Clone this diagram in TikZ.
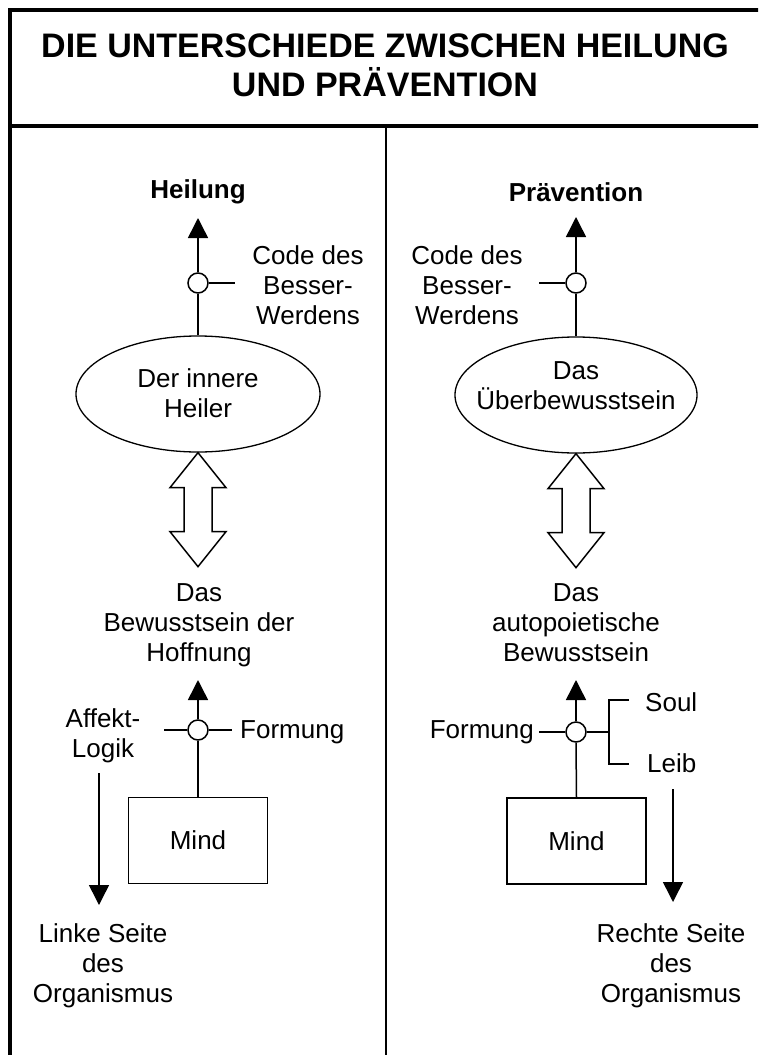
\documentclass[tikz,border=0pt]{standalone}
\usepackage{fontspec}
\setmainfont{Liberation Sans}
\usetikzlibrary{arrows.meta,shapes.geometric,calc}

\begin{document}
\begin{tikzpicture}[x=1pt,y=-1pt,
  txt/.style={font=\fontsize{26}{30}\selectfont, align=center, inner sep=0pt},
  ttl/.style={font=\fontsize{34}{39}\selectfont\bfseries, align=center, inner sep=0pt},
  hd/.style={font=\fontsize{26}{30}\selectfont\bfseries, inner sep=0pt},
  oval/.style={ellipse, draw, line width=1.3pt, minimum width=244pt, minimum height=116pt, inner sep=0pt},
  mindbox/.style={draw, line width=1.5pt, minimum width=139pt, minimum height=86pt,
                  inner sep=0pt, font=\fontsize{26}{30}\selectfont},
  junction/.style={circle, draw, fill=white, line width=1.5pt, minimum size=20pt, inner sep=0pt},
  link/.style={line width=1.5pt},
  flow/.style={line width=1.5pt, -{Triangle[width=20pt,length=20pt]}},
  outerline/.style={line width=4.5pt},
  bigarrow/.style={draw, line width=1.5pt, fill=white, line join=miter}
]
\useasboundingbox (0,0) rectangle (758,1055);
\clip (0,0) rectangle (758,1055);

% frame, title rule and column divider
\draw[outerline] (10,1080) -- (10,10) -- (780,10);
\draw[outerline] (10,126) -- (780,126);
\draw[line width=2pt] (386,126) -- (386,1080);

% title
\node[ttl] (title) at (385,65.5) {DIE UNTERSCHIEDE ZWISCHEN HEILUNG\\UND PRÄVENTION};

% ---------------- left column: Heilung ----------------
\node[hd] (heilung) at (198,192) {Heilung};
\coordinate (htip) at (198,218);
\node[junction] (j1) at (198,283) {};
\coordinate (j1e) at (235,283);
\node[txt, anchor=north] (code1) at (308,245) {Code des\\Besser-\\Werdens};
\node[oval] (heiler) at (198,394) {};
\node[txt] (heilertext) at (198,393.5) {Der innere\\Heiler};
\node[txt, anchor=north] (hoff) at (199,583) {Das\\Bewusstsein der\\Hoffnung};
\coordinate (hofftip) at (198,680);
\node[junction] (j2) at (198,730) {};
\coordinate (j2w) at (164,730);
\coordinate (j2e) at (232,730);
\node[txt, anchor=west] (form1) at (240,732) {Formung};
\node[txt, anchor=north] (affekt) at (103,708) {Affekt-\\Logik};
\node[mindbox] (mind1) at (198,840.5) {Mind};
\coordinate (la1) at (99,773);
\coordinate (la2) at (99,905);
\node[txt, anchor=north] (links) at (103,923) {Linke Seite\\des\\Organismus};

\draw[flow] (j1) -- (htip);
\draw[link] (j1.east) -- (j1e);
\draw[link] (heiler.north) -- (j1.south);
\draw[bigarrow] (heiler.south) -- ++(28,35) -- ++(-14,0) -- ++(0,44) -- ++(14,0)
  -- ++(-28,35) -- ++(-28,-35) -- ++(14,0) -- ++(0,-44) -- ++(-14,0) -- cycle;
\draw[flow] (j2) -- (hofftip);
\draw[link] (j2w) -- (j2.west);
\draw[link] (j2.east) -- (j2e);
\draw[link] (mind1.north) -- (j2.south);
\draw[flow] (la1) -- (la2);

% ---------------- right column: Prävention ----------------
\node[hd] (praev) at (576,192) {Prävention};
\coordinate (ptip) at (576,217);
\node[junction] (k1) at (576,283) {};
\coordinate (k1w) at (539,283);
\node[txt, anchor=north] (code2) at (467,245) {Code des\\Besser-\\Werdens};
\node[oval, minimum width=242pt] (ueber) at (576,395) {};
\node[txt] (uebertext) at (576,386) {Das\\Überbewusstsein};
\node[txt, anchor=north] (auto) at (576,583) {Das\\autopoietische\\Bewusstsein};
\coordinate (autotip) at (576,680);
\node[junction] (k2) at (576,732) {};
\coordinate (k2w) at (539,732);
\node[txt, anchor=east] (form2) at (534,732) {Formung};
\coordinate (br) at (609,732);
\coordinate (brt) at (609,700);
\coordinate (brb) at (609,764);
\coordinate (brts) at (629,700);
\coordinate (brbs) at (629,764);
\node[txt, anchor=west] (soul) at (645,702) {Soul};
\node[txt, anchor=west] (leib) at (647,763) {Leib};
\node[mindbox] (mind2) at (576.5,841) {Mind};
\coordinate (ra1) at (673,789);
\coordinate (ra2) at (673,902);
\node[txt, anchor=north] (rechts) at (671,923) {Rechte Seite\\des\\Organismus};

\draw[flow] (k1) -- (ptip);
\draw[link] (k1w) -- (k1.west);
\draw[link] (ueber.north) -- (k1.south);
\draw[bigarrow] (ueber.south) -- ++(28,35) -- ++(-14,0) -- ++(0,44) -- ++(14,0)
  -- ++(-28,35) -- ++(-28,-35) -- ++(14,0) -- ++(0,-44) -- ++(-14,0) -- cycle;
\draw[flow] (k2) -- (autotip);
\draw[link] (k2w) -- (k2.west);
\draw[link] (k2.east) -- (br);
\draw[link] (brts) -- (brt) -- (brb) -- (brbs);
\draw[link] (mind2.north) -- (k2.south);
\draw[flow] (ra1) -- (ra2);
\end{tikzpicture}
\end{document}
